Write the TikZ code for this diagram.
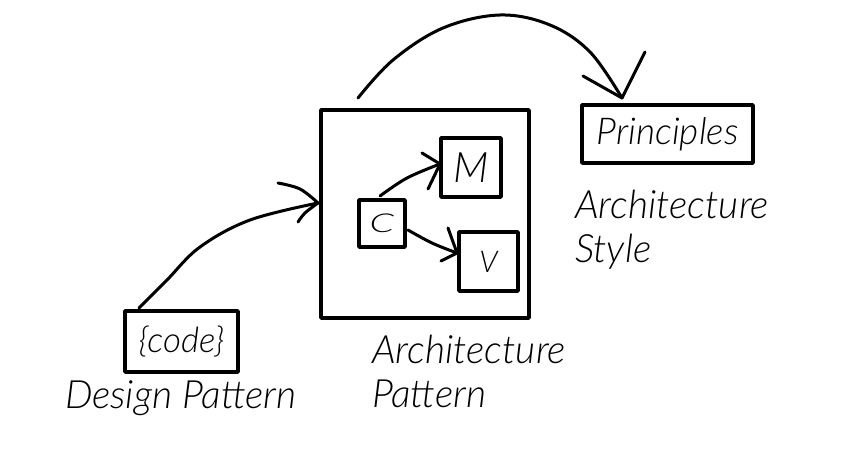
\documentclass[tikz,border=0pt]{standalone}
\usepackage{fontspec}
\usepackage{graphicx}
\setmainfont{Lato Light Italic}
\usetikzlibrary{calc}
\tikzset{
  every node/.style={inner sep=0pt,outer sep=0pt},
  box/.style={draw=black,line width=3.6pt,fill=white,line cap=round,line join=round},
  wire/.style={draw=black,line width=3pt,line cap=round,line join=round},
  tip/.style={draw=black,line width=3pt,line cap=round},
  caption/.style={font=\fontsize{39}{44}\selectfont,align=left,anchor=north west},
}
\begin{document}
\begin{tikzpicture}[x=1pt,y=-1pt]
\useasboundingbox[fill=white] (0,0) rectangle (858,468);
\node[box,minimum width=208pt,minimum height=208pt] (arch) at (425,214) {};
\node[box,minimum width=60pt,minimum height=59pt,font=\fontsize{42}{44}\selectfont] (m) at (471,167.5) {M};
\node[box,minimum width=59pt,minimum height=59pt,font=\fontsize{30}{34}\selectfont] (v) at (488.5,261.5) {\raisebox{-6pt}{V}};
\node[box,minimum width=46pt,minimum height=47pt,font=\fontsize{26}{30}\selectfont] (c) at (382,223.5) {\scalebox{1.5}[1]{C}};
\node[box,minimum width=171pt,minimum height=58pt,font=\fontsize{37}{40}\selectfont] (prin) at (667.5,134) {\raisebox{-2pt}{Principles}};
\node[box,minimum width=113pt,minimum height=61pt,font=\fontsize{35}{38}\selectfont] (code) at (181.5,341.5) {\raisebox{-2pt}{\{code\}}};
\node[caption,anchor=west] (dp) at (65,398) {Design Pattern};
\node[caption] (ap) at (372,335) {Architecture\\Pattern};
\node[caption] (as) at (575,190) {Architecture\\Style};
% Design pattern -> architecture
\coordinate (a1s) at ([xshift=14pt,yshift=3pt]code.north west);
\coordinate (a1e) at ([xshift=-3pt,yshift=11pt]arch.west);
\draw[wire] plot[smooth,tension=.6] coordinates {(a1s) (167,280) (200,247) (250,220) (a1e)};
\draw[tip] plot[smooth,tension=.6] coordinates {(278,183) (300,189) (a1e)};
\draw[tip] plot[smooth,tension=.6] coordinates {(298,222) (305,213) (a1e)};
% Architecture -> principles
\coordinate (a2s) at ([xshift=37pt,yshift=12pt]arch.north west);
\coordinate (a2e) at ([xshift=40pt,yshift=7pt]prin.north west);
\draw[wire] plot[smooth,tension=.6] coordinates {(a2s) (393,60) (443,28) (500,15) (550,25) (590,52) (a2e)};
\draw[tip] (583,76) -- (a2e);
\draw[tip] (645,52) -- (a2e);
% C -> M
\coordinate (a3s) at ([xshift=21pt,yshift=4pt]c.north west);
\coordinate (a3e) at ([xshift=-1pt,yshift=3.5pt]m.west);
\draw[wire] plot[smooth,tension=.6] coordinates {(a3s) (407,178) (a3e)};
\draw[tip] (422,153) -- (a3e);
\draw[tip] (428,189) -- (a3e);
% C -> V
\coordinate (a4s) at ([xshift=3pt,yshift=-6.5pt]c.east);
\coordinate (a4e) at ([xshift=-2pt,yshift=8.5pt]v.west);
\draw[wire] plot[smooth,tension=.6] coordinates {(a4s) (432,243) (a4e)};
\draw[tip] (448,228) -- (a4e);
\draw[tip] (441,261) -- (a4e);
\end{tikzpicture}
\end{document}
